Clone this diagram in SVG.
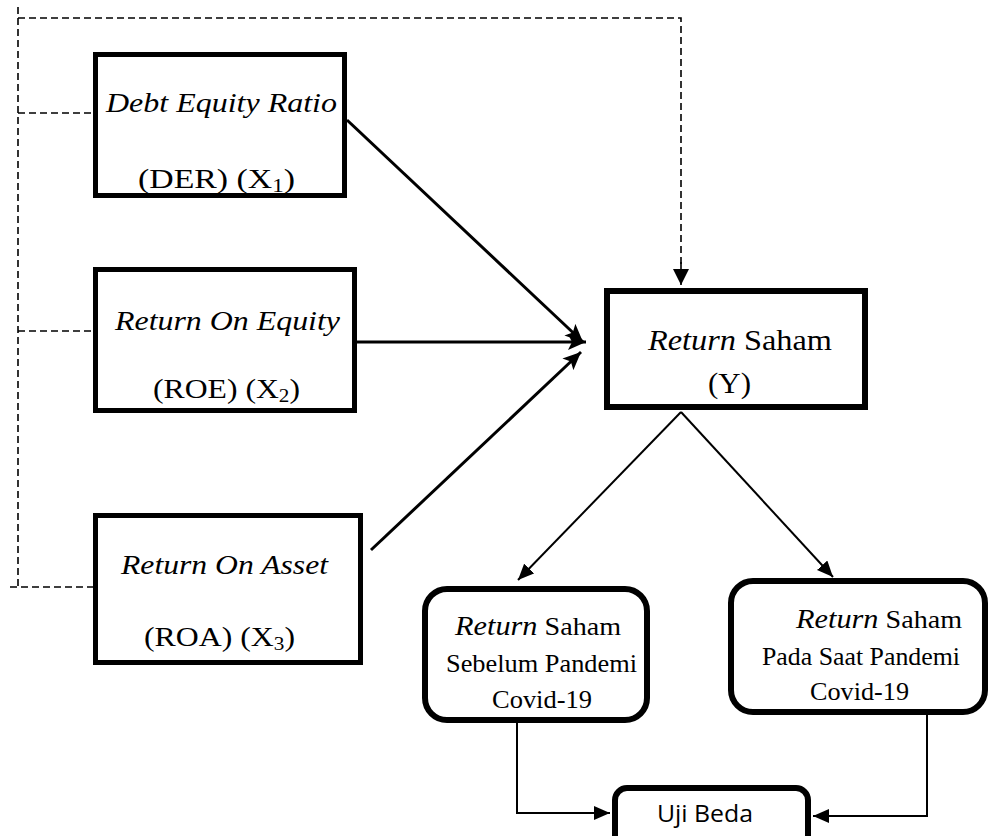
<svg xmlns="http://www.w3.org/2000/svg" width="990" height="836" viewBox="0 0 990 836">
<style>
.box{fill:#fff;stroke:#000;stroke-width:5}
.rbox{fill:#fff;stroke:#000;stroke-width:6}
.t{font-family:"Liberation Serif","Times New Roman",serif;fill:#000}
.i{font-style:italic}
.s{font-family:"Open Sans","Liberation Sans",sans-serif;fill:#000}
.dash{fill:none;stroke:#000;stroke-width:1.6;stroke-dasharray:7 4}
.thick{fill:none;stroke:#000;stroke-width:3}
.thin{fill:none;stroke:#000;stroke-width:2}
</style>
<defs>
<marker id="aBig" markerUnits="userSpaceOnUse" markerWidth="20" markerHeight="16" refX="18" refY="8" orient="auto">
<path d="M0,0 L18,8 L0,16 L4,8 z" fill="#000"/>
</marker>
<marker id="aMid" markerUnits="userSpaceOnUse" markerWidth="18" markerHeight="14" refX="16" refY="7" orient="auto">
<path d="M0,0 L16,7 L0,14 z" fill="#000"/>
</marker>
<marker id="aDash" markerUnits="userSpaceOnUse" markerWidth="18" markerHeight="16" refX="16" refY="8" orient="auto">
<path d="M0,0 L16,8 L0,16 z" fill="#000"/>
</marker>
</defs>

<g id="connectors">
<polyline class="dash" points="18,7 18,587"/>
<polyline class="dash" points="18,18 681,18 681,268"/>
<line x1="681" y1="262" x2="681" y2="285" stroke="#000" stroke-width="1.6" marker-end="url(#aDash)"/>
<line class="dash" x1="18" y1="113" x2="93" y2="113"/>
<line class="dash" x1="18" y1="331" x2="93" y2="331"/>
<line class="dash" x1="10" y1="587" x2="93" y2="587"/>
<line class="thick" x1="347" y1="120" x2="583" y2="342" marker-end="url(#aBig)"/>
<line class="thick" x1="357" y1="342" x2="586" y2="342" marker-end="url(#aBig)"/>
<line class="thick" x1="371" y1="550" x2="581" y2="352" marker-end="url(#aBig)"/>
<line class="thin" x1="681" y1="412" x2="518" y2="580" marker-end="url(#aMid)"/>
<line class="thin" x1="681" y1="412" x2="833" y2="577" marker-end="url(#aMid)"/>
<polyline class="thin" points="517,722 517,813 610,813" marker-end="url(#aMid)"/>
<polyline class="thin" points="927,715 927,816 813,816" marker-end="url(#aMid)"/>
</g>

<g id="der">
<rect class="box" x="95.5" y="54.5" width="249" height="141"/>
<text class="t i" x="106" y="112" font-size="27" textLength="231" lengthAdjust="spacingAndGlyphs">Debt Equity Ratio</text>
<text class="t" x="138" y="188" font-size="28" textLength="157" lengthAdjust="spacingAndGlyphs">(DER) (X<tspan font-size="19" dy="4">1</tspan><tspan dy="-4">)</tspan></text>
</g>

<g id="roe">
<rect class="box" x="95.5" y="269.5" width="259" height="141"/>
<text class="t i" x="115" y="330" font-size="27" textLength="225" lengthAdjust="spacingAndGlyphs">Return On Equity</text>
<text class="t" x="153" y="398" font-size="27" textLength="147" lengthAdjust="spacingAndGlyphs">(ROE) (X<tspan font-size="18" dy="4">2</tspan><tspan dy="-4">)</tspan></text>
</g>

<g id="roa">
<rect class="box" x="95.5" y="515.5" width="265" height="147"/>
<text class="t i" x="121" y="574" font-size="27" textLength="207" lengthAdjust="spacingAndGlyphs">Return On Asset</text>
<text class="t" x="144" y="646" font-size="27" textLength="151" lengthAdjust="spacingAndGlyphs">(ROA) (X<tspan font-size="18" dy="4">3</tspan><tspan dy="-4">)</tspan></text>
</g>

<g id="y">
<rect class="rbox" x="607" y="291" width="258" height="116"/>
<text class="t" x="648" y="350" font-size="29" textLength="184" lengthAdjust="spacingAndGlyphs"><tspan class="i">Return</tspan> Saham</text>
<text class="t" x="708" y="393" font-size="29" textLength="43" lengthAdjust="spacingAndGlyphs">(Y)</text>
</g>

<g id="sebelum">
<rect class="rbox" x="425" y="589" width="222" height="131" rx="22"/>
<text class="t" x="455" y="635" font-size="25" textLength="166" lengthAdjust="spacingAndGlyphs"><tspan class="i" font-size="27">Return</tspan> Saham</text>
<text class="t" x="446" y="672" font-size="25" textLength="191" lengthAdjust="spacingAndGlyphs">Sebelum Pandemi</text>
<text class="t" x="492" y="708" font-size="25" textLength="100" lengthAdjust="spacingAndGlyphs">Covid-19</text>
</g>

<g id="pada">
<rect class="rbox" x="731" y="581" width="254" height="131" rx="22"/>
<text class="t" x="796" y="628" font-size="25" textLength="166" lengthAdjust="spacingAndGlyphs"><tspan class="i" font-size="27">Return</tspan> Saham</text>
<text class="t" x="762" y="665" font-size="25" textLength="198" lengthAdjust="spacingAndGlyphs">Pada Saat Pandemi</text>
<text class="t" x="810" y="700" font-size="25" textLength="99" lengthAdjust="spacingAndGlyphs">Covid-19</text>
</g>

<g id="ujibeda">
<rect class="rbox" x="615" y="788" width="193" height="70" rx="12"/>
<text class="s" x="657" y="822" font-size="24" textLength="96" lengthAdjust="spacingAndGlyphs">Uji Beda</text>
</g>
</svg>
